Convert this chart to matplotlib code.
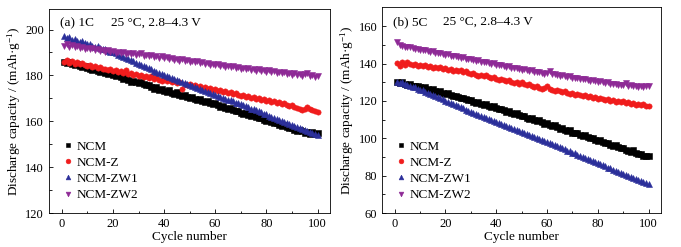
import numpy as np
import matplotlib
matplotlib.use("Agg")
import matplotlib.pyplot as plt

plt.rcParams['font.family'] = ['Liberation Serif', 'DejaVu Serif']
plt.rcParams['mathtext.default'] = 'regular'

cycles = np.arange(1, 101)
labels = ['NCM', 'NCM-Z', 'NCM-ZW1', 'NCM-ZW2']
colors = ['#000000', '#f01c1c', '#2b2f9a', '#8e2a96']
markers = ['s', 'o', '^', 'v']

# (a) 1C
ncm_1c = [186.0, 185.5, 185.8, 185.0, 184.6, 184.9, 184.1, 183.8, 184.2, 183.4,
          183.0, 182.4, 182.8, 182.0, 181.6, 182.1, 181.2, 180.6, 181.0, 180.2,
          179.6, 180.1, 179.2, 178.6, 179.4, 178.0, 177.3, 177.8, 177.0, 176.6,
          177.1, 176.2, 175.8, 176.0, 175.0, 174.3, 174.8, 173.8, 174.2, 173.4,
          173.0, 173.5, 172.5, 172.0, 172.6, 171.6, 171.0, 171.4, 170.5, 170.1,
          170.6, 169.7, 169.2, 169.6, 168.8, 168.3, 168.9, 167.8, 167.4, 167.9,
          167.0, 166.4, 166.8, 165.8, 165.4, 165.9, 164.8, 164.4, 164.7, 163.8,
          163.4, 163.8, 162.8, 162.3, 162.7, 161.7, 161.3, 161.6, 160.6, 160.1,
          160.5, 159.6, 159.1, 159.4, 158.5, 158.0, 158.4, 157.4, 156.9, 157.3,
          156.3, 155.9, 156.4, 155.6, 155.0, 155.5, 154.6, 155.2, 154.3, 154.8]
ncmz_1c = [186.0, 186.8, 185.6, 186.3, 185.2, 185.8, 184.9, 185.3, 184.6, 184.0,
           184.5, 183.6, 184.0, 183.1, 183.5, 182.6, 183.0, 182.2, 182.7, 181.8,
           182.3, 181.4, 181.9, 181.0, 182.2, 180.6, 181.2, 180.3, 180.8, 179.9,
           180.4, 179.4, 179.9, 179.0, 179.6, 178.5, 179.2, 178.2, 177.8, 178.3,
           177.4, 177.9, 177.0, 177.5, 176.6, 177.1, 174.2, 176.2, 175.8, 176.3,
           175.4, 175.9, 175.0, 175.5, 174.6, 175.0, 174.2, 174.6, 173.8, 174.3,
           173.4, 173.8, 172.9, 173.4, 172.4, 172.8, 171.9, 172.4, 171.6, 171.1,
           171.5, 170.6, 171.1, 170.2, 170.6, 169.7, 170.2, 169.3, 169.8, 168.9,
           169.3, 168.4, 168.9, 168.0, 168.5, 167.6, 168.1, 167.2, 166.6, 167.2,
           166.3, 165.8, 165.2, 164.8, 165.5, 166.2, 165.6, 165.0, 164.4, 164.0]
zw1_1c = [197.0, 196.2, 196.8, 195.6, 196.0, 195.2, 194.6, 195.0, 194.2, 193.6,
          193.9, 193.0, 192.6, 192.8, 191.9, 191.4, 191.6, 190.7, 190.2, 190.0,
          189.6, 189.0, 188.6, 188.2, 187.6, 187.1, 186.6, 186.1, 185.6, 185.1,
          184.6, 184.1, 183.6, 183.1, 182.6, 182.1, 181.6, 181.2, 180.7, 180.2,
          179.8, 179.3, 178.8, 178.4, 178.0, 177.5, 177.1, 176.7, 176.2, 175.8,
          175.4, 175.0, 174.5, 174.1, 173.7, 173.3, 172.9, 172.4, 172.0, 171.6,
          171.2, 170.8, 170.3, 169.9, 169.5, 169.1, 168.7, 168.2, 167.8, 167.4,
          167.0, 166.5, 166.1, 165.6, 165.2, 164.8, 164.3, 163.9, 163.4, 163.0,
          162.5, 162.1, 161.6, 161.2, 160.7, 160.3, 159.8, 159.4, 158.9, 158.5,
          158.0, 157.6, 157.1, 156.7, 156.2, 155.8, 155.3, 154.9, 154.4, 154.0]
zw2_1c = [192.8, 193.6, 192.4, 193.2, 192.2, 192.8, 191.8, 192.4, 191.6, 192.1,
          191.4, 191.9, 191.0, 191.6, 190.7, 191.2, 190.4, 190.9, 190.2, 190.6,
          189.9, 190.4, 189.7, 190.1, 189.4, 189.9, 189.2, 189.6, 189.0, 189.5,
          189.8, 188.6, 189.1, 188.3, 188.8, 188.0, 188.5, 187.7, 188.3, 187.5,
          187.9, 187.1, 187.6, 186.8, 187.3, 186.5, 187.0, 186.2, 186.7, 186.0,
          186.5, 185.7, 186.1, 185.3, 185.8, 185.0, 185.5, 184.7, 185.2, 184.5,
          184.9, 184.1, 184.6, 183.8, 184.3, 183.5, 184.0, 183.2, 183.7, 182.9,
          183.4, 182.7, 183.1, 182.4, 182.9, 182.1, 182.6, 181.9, 182.4, 181.7,
          182.2, 181.4, 181.9, 181.1, 181.6, 180.9, 181.4, 180.6, 181.1, 180.4,
          181.0, 180.2, 180.7, 179.9, 180.5, 181.2, 179.8, 180.4, 179.4, 179.6]

# (b) 5C
ncm_5c = [130.2, 129.6, 130.0, 129.2, 128.6, 129.0, 128.2, 127.8, 128.1, 127.4,
          126.9, 127.3, 126.4, 125.8, 126.2, 125.3, 124.8, 125.2, 124.2, 123.7,
          124.0, 123.1, 122.5, 122.9, 121.9, 121.4, 121.8, 120.8, 120.3, 120.6,
          119.6, 119.1, 119.5, 118.5, 117.9, 118.3, 117.3, 116.8, 117.1, 116.1,
          115.6, 115.9, 114.9, 114.3, 114.7, 113.6, 113.1, 113.4, 112.4, 111.9,
          112.2, 111.1, 110.6, 110.9, 109.8, 109.2, 109.6, 108.5, 107.9, 108.2,
          107.1, 106.5, 106.9, 105.8, 105.2, 105.6, 104.5, 103.9, 104.2, 103.1,
          102.6, 102.9, 101.8, 101.3, 101.6, 100.5, 100.0, 100.3, 99.3, 98.8,
          99.0, 97.9, 97.4, 97.7, 96.6, 96.1, 96.4, 95.3, 94.8, 95.1,
          94.0, 93.4, 92.6, 93.8, 92.0, 91.4, 91.8, 90.8, 90.4, 90.6]
ncmz_5c = [140.2, 138.8, 140.6, 139.4, 140.8, 139.6, 139.2, 139.9, 138.9, 139.4,
           138.6, 139.1, 138.2, 138.7, 137.8, 138.3, 137.4, 137.9, 137.0, 137.5,
           136.6, 137.1, 136.2, 136.7, 135.8, 136.3, 135.4, 135.9, 135.0, 134.4,
           134.9, 134.0, 133.5, 134.1, 133.2, 134.0, 132.8, 132.3, 132.8, 131.9,
           131.4, 131.9, 131.0, 130.5, 131.0, 130.1, 129.6, 130.1, 129.2, 130.0,
           128.8, 128.3, 128.8, 127.9, 127.4, 127.9, 127.0, 126.5, 127.1, 127.8,
           126.6, 126.0, 125.5, 126.0, 125.1, 124.6, 125.1, 124.2, 123.7, 124.2,
           123.3, 123.8, 123.0, 122.5, 123.0, 122.1, 122.6, 121.7, 122.2, 121.3,
           121.8, 120.9, 120.4, 120.9, 120.0, 120.5, 119.6, 120.1, 119.2, 119.7,
           118.8, 119.3, 118.4, 118.9, 118.0, 118.5, 117.6, 118.1, 117.2, 117.5]
zw1_5c = [130.0, 129.6, 129.9, 129.0, 128.6, 128.2, 127.6, 127.2, 126.6, 126.0,
          125.6, 125.0, 124.5, 123.8, 123.2, 122.6, 122.0, 121.4, 120.8, 120.2,
          119.6, 119.0, 118.4, 117.8, 117.2, 116.6, 116.0, 115.4, 114.8, 114.2,
          113.6, 113.0, 112.5, 112.0, 111.5, 111.0, 110.4, 109.9, 109.4, 108.9,
          108.4, 107.8, 107.3, 106.7, 106.2, 105.6, 105.1, 104.5, 104.0, 103.4,
          102.9, 102.3, 101.8, 101.2, 100.7, 100.1, 99.6, 99.0, 98.5, 97.9,
          97.4, 96.8, 96.3, 95.7, 95.2, 94.6, 94.1, 93.5, 93.0, 92.4,
          91.9, 91.3, 90.8, 90.2, 89.6, 89.0, 88.4, 87.8, 87.2, 86.6,
          86.1, 85.5, 85.0, 84.4, 83.9, 83.3, 82.8, 82.2, 81.7, 81.1,
          80.6, 80.0, 79.5, 78.9, 78.3, 77.7, 77.1, 76.5, 76.0, 75.6]
zw2_5c = [151.5, 150.0, 149.4, 149.0, 148.6, 148.9, 148.2, 147.6, 148.0, 147.4,
          147.0, 147.3, 146.6, 146.2, 146.5, 145.8, 145.4, 145.7, 145.0, 144.6,
          144.9, 144.2, 143.8, 144.1, 143.4, 143.0, 143.3, 142.6, 142.2, 142.5,
          141.8, 141.4, 141.7, 141.0, 140.6, 140.9, 140.2, 139.8, 140.1, 139.4,
          139.0, 139.3, 138.6, 138.2, 138.5, 137.8, 137.4, 137.7, 137.0, 136.7,
          137.0, 136.3, 136.0, 136.3, 135.6, 135.3, 135.6, 134.9, 134.6, 134.9,
          135.8, 134.2, 134.5, 133.8, 133.5, 133.8, 133.1, 132.8, 133.1, 132.4,
          132.1, 132.4, 131.8, 131.5, 131.8, 131.1, 130.8, 131.1, 130.5, 130.2,
          130.5, 129.9, 129.6, 129.9, 129.3, 129.0, 129.3, 128.7, 128.4, 128.7,
          129.4, 128.1, 128.4, 127.8, 128.1, 127.5, 127.8, 127.2, 127.9, 128.0]

fig = plt.figure(figsize=(6.81, 2.47), dpi=100)
ax1 = fig.add_axes([0.072, 0.137, 0.413, 0.827])
ax2 = fig.add_axes([0.561, 0.137, 0.410, 0.833])

panels = [
    (ax1, [ncm_1c, ncmz_1c, zw1_1c, zw2_1c], (120, 209), [120, 140, 160, 180, 200], '(a) 1C'),
    (ax2, [ncm_5c, ncmz_5c, zw1_5c, zw2_5c], (60, 170), [60, 80, 100, 120, 140, 160], '(b) 5C'),
]

for ax, series, ylim, yticks, tag in panels:
    for vals, lab, c, m in zip(series, labels, colors, markers):
        ax.plot(cycles, vals, linestyle='none', marker=m, color=c, ms=3.8,
                markeredgewidth=0.4, label=lab)
    ax.set_xlim(-5, 105)
    ax.set_ylim(*ylim)
    ax.set_xticks([0, 20, 40, 60, 80, 100])
    ax.set_xticks([10, 30, 50, 70, 90], minor=True)
    ax.set_yticks(yticks)
    ax.set_yticks([y + 10 for y in yticks[:-1]], minor=True)
    ax.tick_params(direction='in', which='both', labelsize=9, width=0.6)
    ax.tick_params(which='major', length=3)
    ax.tick_params(which='minor', length=1.8)
    for s in ax.spines.values():
        s.set_linewidth(0.6)
    ax.set_xlabel('Cycle number', fontsize=9.5, labelpad=1)
    ax.set_ylabel('Discharge capacity / (mAh·g$^{-1}$)', fontsize=9.5, labelpad=2)
    ax.text(0.04, 0.93, tag, transform=ax.transAxes, fontsize=9.5, va='center')
    ax.text(0.22, 0.93, '25 °C, 2.8–4.3 V', transform=ax.transAxes, fontsize=9.5, va='center')
    ax.legend(loc='lower left', bbox_to_anchor=(0.01, 0.02), frameon=False, fontsize=9.5,
              handletextpad=0.1, labelspacing=0.3, handlelength=1.2, markerscale=0.9,
              borderaxespad=0.2)

fig.savefig('out.png', dpi=100)
